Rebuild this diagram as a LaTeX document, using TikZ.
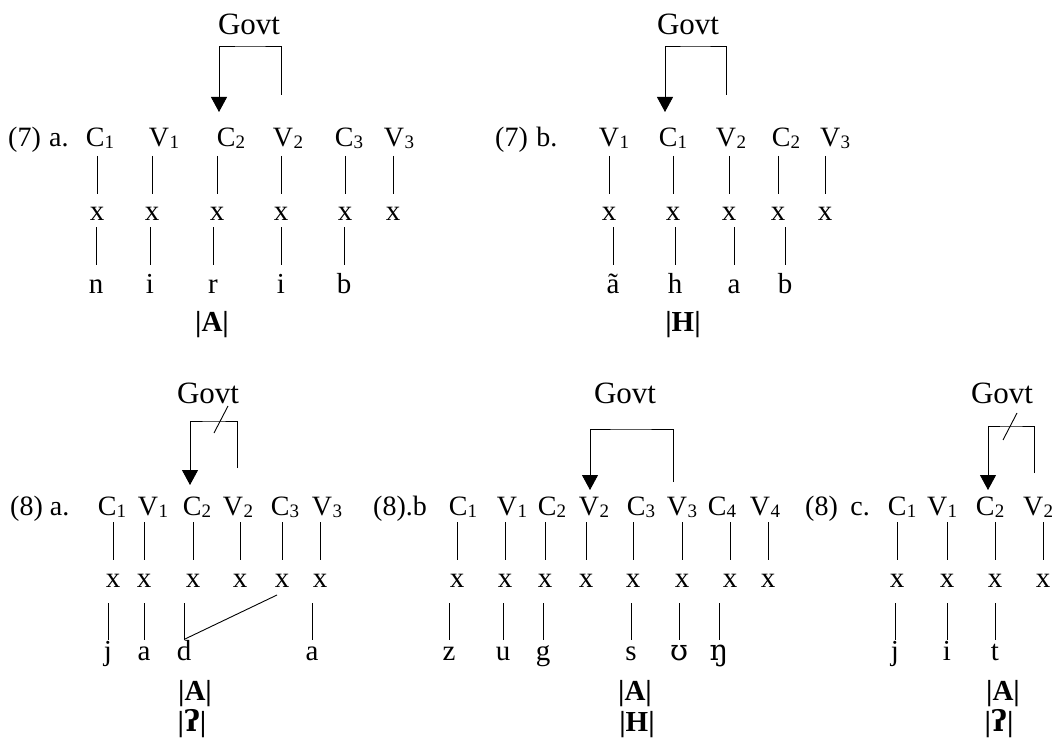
\documentclass[tikz,border=0pt]{standalone}
\usepackage{fontspec}
\setmainfont{Liberation Serif}
\newfontfamily\ipafont{DejaVu Serif}
\usetikzlibrary{arrows.meta}
\newcommand\lsub[1]{\kern0.3pt\raisebox{-2pt}{\fontsize{19}{19}\selectfont #1}}
\tikzset{
  base/.style={inner sep=0pt, anchor=base, text height=0pt, text depth=0pt},
  lab/.style={base, font=\fontsize{28}{28}\selectfont},
  seg/.style={base, font=\fontsize{29}{29}\selectfont},
  num/.style={base, anchor=base west, font=\fontsize{28}{28}\selectfont},
  govt/.style={base, font=\fontsize{31}{31}\selectfont},
  feat/.style={base, font=\fontsize{29}{29}\selectfont\bfseries},
  ln/.style={line width=0.9pt},
  upA/.style={ln, shorten <=9pt, shorten >=26pt},
  loA/.style={ln, shorten <=7pt, shorten >=28pt},
  upB/.style={ln, shorten <=7pt, shorten >=27pt},
  loB/.style={ln, shorten <=16pt, shorten >=20pt},
  gv/.style={ln, -{Triangle[width=16pt,length=15pt]}},
}
\begin{document}
\begin{tikzpicture}[x=1pt,y=-1pt]
\fill[white] (0,0) rectangle (1057,738);
\useasboundingbox (0,0) rectangle (1057,738);

% ---------------- (7) a.
\node[govt] (a7g) at (249,35) {Govt};
\node[num] (a7n) at (8,147) {(7)\hspace{0.3em}a.};
\foreach \n/\x/\t in {1/100/C\lsub{1},2/164/V\lsub{1},3/231/C\lsub{2},4/288/V\lsub{2},5/349/C\lsub{3},6/399/V\lsub{3}}
  \node[lab] (a7l\n) at (\x,147) {\t};
\foreach \n/\x in {1/97,2/152,3/217,4/281,5/345,6/393}
  \node[seg] (a7x\n) at (\x,220) {x};
\foreach \n/\x/\t in {1/96/n,2/150/i,3/213/r,4/281/i,5/344/b}
  \node[seg] (a7s\n) at (\x,293) {\t};
\node[feat] (a7f) at (212,331) {|A|};
\foreach \n in {1,...,6}
  \draw[upA] (a7l\n.base -| a7x\n.base) -- (a7x\n.base);
\foreach \n in {1,...,5}
  \draw[loA] (a7x\n.base -| a7s\n.base) -- (a7s\n.base);
\coordinate (a7r) at (281,95);
\coordinate (a7t) at (250,46);
\coordinate (a7tip) at (219,112);
\draw[gv] (a7r) |- (a7t) -| (a7tip);

% ---------------- (7) b.
\node[govt] (b7g) at (688,35) {Govt};
\node[num] (b7n) at (495,147) {(7)\hspace{0.3em}b.};
\foreach \n/\x/\t in {1/614/V\lsub{1},2/673/C\lsub{1},3/731/V\lsub{2},4/786/C\lsub{2},5/835/V\lsub{3}}
  \node[lab] (b7l\n) at (\x,147) {\t};
\foreach \n/\x in {1/609,2/673,3/729,4/778,5/825}
  \node[seg] (b7x\n) at (\x,220) {x};
\foreach \n/\x/\t in {1/613/ã,2/675/h,3/734/a,4/785/b}
  \node[seg] (b7s\n) at (\x,293) {\t};
\node[feat] (b7f) at (683,331) {|H|};
\foreach \n in {1,...,5}
  \draw[upA] (b7l\n.base -| b7x\n.base) -- (b7x\n.base);
\foreach \n in {1,...,4}
  \draw[loA] (b7x\n.base -| b7s\n.base) -- (b7s\n.base);
\coordinate (b7r) at (726,95);
\coordinate (b7t) at (695,46);
\coordinate (b7tip) at (665,112);
\draw[gv] (b7r) |- (b7t) -| (b7tip);

% ---------------- (8) a.
\node[govt] (a8g) at (208,403) {Govt};
\node[num] (a8n) at (10,515) {(8) a.};
\foreach \n/\x/\t in {1/112/C\lsub{1},2/153/V\lsub{1},3/197/C\lsub{2},4/238/V\lsub{2},5/285/C\lsub{3},6/327/V\lsub{3}}
  \node[lab] (a8l\n) at (\x,515) {\t};
\foreach \n/\x in {1/113,2/144,3/193,4/240,5/282,6/320}
  \node[seg] (a8x\n) at (\x,587) {x};
\foreach \n/\x/\t in {1/108/j,2/144/a,3/184/d,6/312/a}
  \node[seg] (a8s\n) at (\x,660) {\t};
\node[feat] (a8f) at (195,700) {|A|};
\node[feat] (a8h) at (192,731) {|{\ipafont ʔ}|};
\foreach \n in {1,...,6}
  \draw[upB] (a8l\n.base -| a8x\n.base) -- (a8x\n.base);
\foreach \n in {1,2,3,6}
  \draw[loB] (a8x\n.base -| a8s\n.base) -- (a8s\n.base);
\coordinate (a8c) at (277,595);
\coordinate (a8d) at (185,639);
\draw[ln] (a8c) -- (a8d);
\coordinate (a8r) at (237,468);
\coordinate (a8t) at (214,421);
\coordinate (a8tip) at (190,485);
\draw[gv] (a8r) |- (a8t) -| (a8tip);
\coordinate (a8p) at (228,406);
\coordinate (a8q) at (214,433);
\draw[ln] (a8p) -- (a8q);

% ---------------- (8).b
\node[govt] (b8g) at (625,403) {Govt};
\node[num] (b8n) at (373,515) {(8).b};
\foreach \n/\x/\t in {1/463/C\lsub{1},2/512/V\lsub{1},3/552/C\lsub{2},4/594/V\lsub{2},5/641/C\lsub{3},6/682/V\lsub{3},7/722/C\lsub{4},8/765/V\lsub{4}}
  \node[lab] (b8l\n) at (\x,515) {\t};
\foreach \n/\x in {1/457,2/505,3/545,4/586,5/633,6/682,7/730,8/768}
  \node[seg] (b8x\n) at (\x,587) {x};
\foreach \n/\x/\t in {1/449/z,2/503/u,3/543/g,5/631/s,6/679/{\ipafont ʊ},7/719/{\ipafont ŋ}}
  \node[seg] (b8s\n) at (\x,660) {\t};
\node[feat] (b8f) at (635,700) {|A|};
\node[feat] (b8h) at (637,731) {|H|};
\foreach \n in {1,...,8}
  \draw[upB] (b8l\n.base -| b8x\n.base) -- (b8x\n.base);
\foreach \n in {1,2,3,5,6,7}
  \draw[loB] (b8x\n.base -| b8s\n.base) -- (b8s\n.base);
\coordinate (b8r) at (673,482);
\coordinate (b8t) at (630,429);
\coordinate (b8tip) at (590,490);
\draw[gv] (b8r) |- (b8t) -| (b8tip);

% ---------------- (8) c.
\node[govt] (c8g) at (1002,403) {Govt};
\node[num] (c8n) at (805,515) {(8)\hspace{0.45em}c.};
\foreach \n/\x/\t in {1/902/C\lsub{1},2/942/V\lsub{1},3/990/C\lsub{2},4/1038/V\lsub{2}}
  \node[lab] (c8l\n) at (\x,515) {\t};
\foreach \n/\x in {1/897,2/947,3/995,4/1043}
  \node[seg] (c8x\n) at (\x,587) {x};
\foreach \n/\x/\t in {1/895/j,2/947/i,3/995/t}
  \node[seg] (c8s\n) at (\x,660) {\t};
\node[feat] (c8f) at (1003,700) {|A|};
\node[feat] (c8h) at (999,731) {|{\ipafont ʔ}|};
\foreach \n in {1,...,4}
  \draw[upB] (c8l\n.base -| c8x\n.base) -- (c8x\n.base);
\foreach \n in {1,2,3}
  \draw[loB] (c8x\n.base -| c8s\n.base) -- (c8s\n.base);
\coordinate (c8r) at (1034,473);
\coordinate (c8t) at (1011,426);
\coordinate (c8tip) at (988,490);
\draw[gv] (c8r) |- (c8t) -| (c8tip);
\coordinate (c8p) at (1017,413);
\coordinate (c8q) at (1003,440);
\draw[ln] (c8p) -- (c8q);
\end{tikzpicture}
\end{document}
